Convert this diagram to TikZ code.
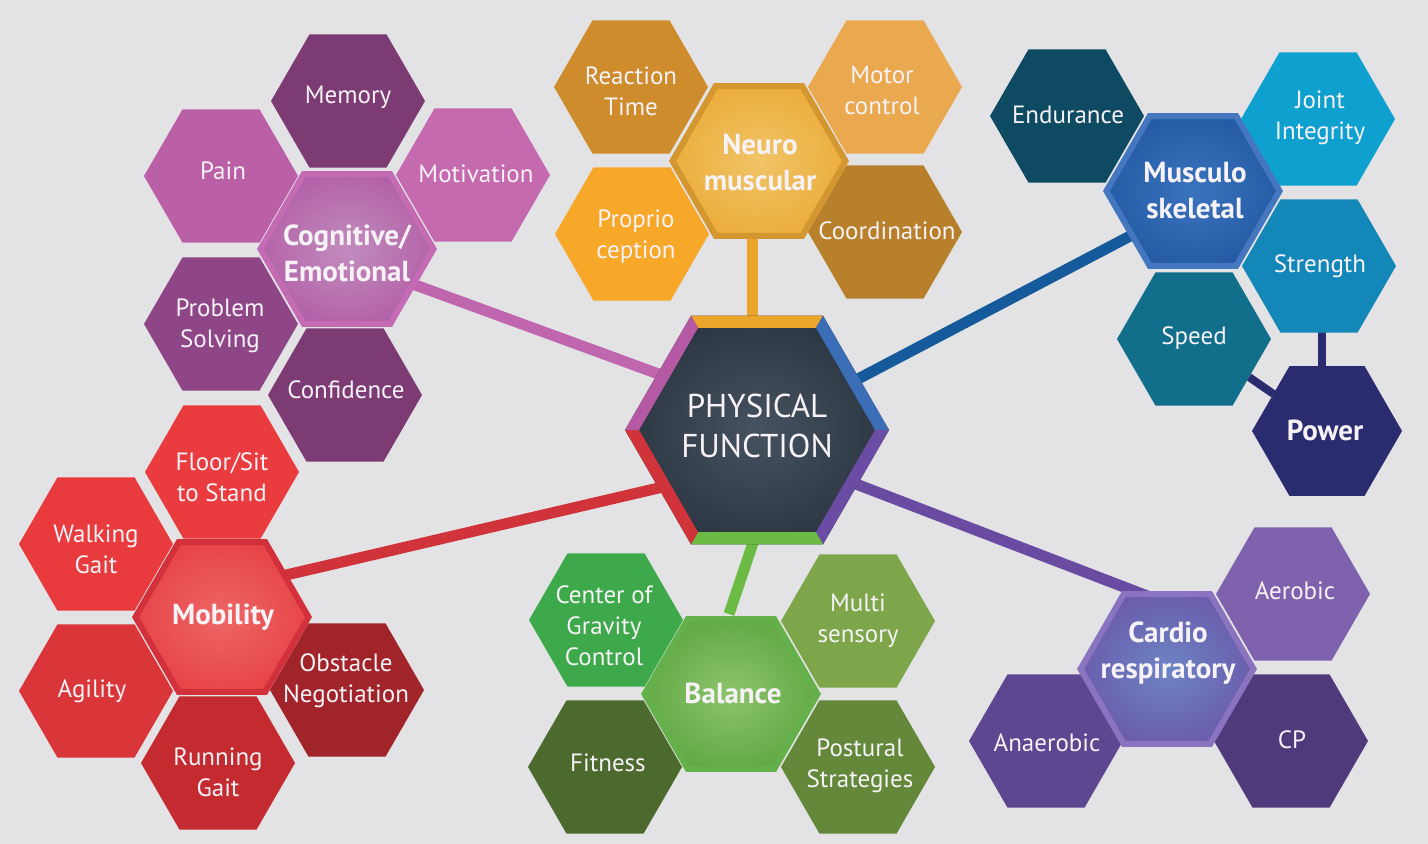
\documentclass[tikz,border=0pt]{standalone}
\usepackage{fontspec}
\setmainfont{PT Sans}
\usetikzlibrary{shapes.geometric,calc}
\makeatletter
\pgfdeclareradialshading[tikz@radial@inner,tikz@radial@outer]{hexrad}{\pgfpointorigin}{color(0bp)=(tikz@radial@inner); color(40bp)=(tikz@radial@outer); color(50bp)=(tikz@radial@outer)}
\makeatother
\pgfdeclarelayer{back}
\pgfdeclarelayer{links}
\pgfsetlayers{back,links,main}
% background
\definecolor{bgc}{HTML}{E3E3E5}
% cognitive
\definecolor{cMem}{HTML}{7D3B74}
\definecolor{cPain}{HTML}{BB5FA7}
\definecolor{cMot}{HTML}{C56AAF}
\definecolor{cProb}{HTML}{8F4687}
\definecolor{cConf}{HTML}{7D3B74}
\definecolor{cogB}{HTML}{C46BB4}
\definecolor{cogI}{HTML}{C28CBE}
\definecolor{cogO}{HTML}{AA4A9C}
\definecolor{pinkL}{HTML}{C066AE}
% neuromuscular
\definecolor{nRT}{HTML}{CE8C2C}
\definecolor{nMC}{HTML}{EAA94F}
\definecolor{nPro}{HTML}{F7A828}
\definecolor{nCoo}{HTML}{B9802B}
\definecolor{neuB}{HTML}{D4962E}
\definecolor{neuI}{HTML}{F0C466}
\definecolor{neuO}{HTML}{EAA126}
\definecolor{orangeL}{HTML}{EBA52B}
% musculoskeletal
\definecolor{mEnd}{HTML}{0E4B62}
\definecolor{mJI}{HTML}{0EA0CF}
\definecolor{mStr}{HTML}{1487B9}
\definecolor{mSpd}{HTML}{116F8C}
\definecolor{mPow}{HTML}{2B2C6F}
\definecolor{musB}{HTML}{4576C0}
\definecolor{musI}{HTML}{3A73BE}
\definecolor{musO}{HTML}{1A4E98}
\definecolor{blueL}{HTML}{155A9A}
\definecolor{navyL}{HTML}{2B2C6F}
% mobility
\definecolor{rFS}{HTML}{EA3B3F}
\definecolor{rWG}{HTML}{E93A3E}
\definecolor{rAg}{HTML}{DA3538}
\definecolor{rRG}{HTML}{C42B31}
\definecolor{rObs}{HTML}{A1242A}
\definecolor{mobB}{HTML}{D2303A}
\definecolor{mobI}{HTML}{EE6666}
\definecolor{mobO}{HTML}{E23236}
\definecolor{redL}{HTML}{D03339}
% balance
\definecolor{gCoG}{HTML}{3DA94B}
\definecolor{gMS}{HTML}{7DA64A}
\definecolor{gFit}{HTML}{4D6A2E}
\definecolor{gPos}{HTML}{63883A}
\definecolor{balB}{HTML}{64B14B}
\definecolor{balI}{HTML}{8CC46C}
\definecolor{balO}{HTML}{4C9A30}
\definecolor{greenL}{HTML}{6CBB45}
% cardio
\definecolor{vAer}{HTML}{7F62AD}
\definecolor{vAna}{HTML}{5D4791}
\definecolor{vCP}{HTML}{4F3B7B}
\definecolor{carB}{HTML}{8B74BF}
\definecolor{carI}{HTML}{6C84C4}
\definecolor{carO}{HTML}{6A479F}
\definecolor{purpleL}{HTML}{6A4BA2}
% physical function
\definecolor{pfI}{HTML}{46525F}
\definecolor{pfO}{HTML}{1E2734}
\definecolor{pfOr}{HTML}{EBA52B}
\definecolor{pfBl}{HTML}{3C6DB7}
\definecolor{pfPu}{HTML}{6B4CA4}
\definecolor{pfGr}{HTML}{6CBB45}
\definecolor{pfRe}{HTML}{D0343A}
\definecolor{pfMa}{HTML}{B659A5}
\definecolor{txt}{HTML}{F6F2F6}
\begin{document}
\begin{tikzpicture}[x=0.5pt,y=-0.5pt,
  hexs/.style={regular polygon, regular polygon sides=6, inner sep=0pt, outer sep=0pt, minimum size=77pt},
  hexc/.style={regular polygon, regular polygon sides=6, inner sep=0pt, outer sep=0pt, minimum size=86.5pt, line width=3pt},
  lab/.style={text=txt, align=center, inner sep=0pt, font=\fontsize{12.5}{15.5}\selectfont},
  labb/.style={text=txt, align=center, inner sep=0pt, font=\fontsize{14.5}{18}\selectfont\bfseries},
  conn/.style={line width=5.5pt},
  navyconn/.style={line width=4pt, draw=navyL}
]
\begin{pgfonlayer}{back}
\fill[bgc] (0,0) rectangle (1428,844);
\end{pgfonlayer}
\useasboundingbox (0,0) rectangle (1428,844);

% ---------- small hexagons ----------
% cognitive / emotional
\node[hexs, fill=cMem]  (mem)  at (348,101) {};
\node[hexs, fill=cPain] (pain) at (221,176) {};
\node[hexs, fill=cMot]  (mot)  at (473,175) {};
\node[hexs, fill=cProb] (prob) at (221,324) {};
\node[hexs, fill=cConf] (conf) at (345,395) {};
% neuromuscular
\node[hexs, fill=nRT]  (rt)  at (631,87) {};
\node[hexs, fill=nMC]  (mc)  at (885,87) {};
\node[hexs, fill=nPro] (pro) at (632,234) {};
\node[hexs, fill=nCoo] (coo) at (885,232) {};
% musculoskeletal
\node[hexs, fill=mEnd] (end) at (1067,116) {};
\node[hexs, fill=mJI]  (ji)  at (1318,119) {};
\node[hexs, fill=mStr] (str) at (1319,266) {};
\node[hexs, fill=mSpd] (spd) at (1194,339) {};
\node[hexs, fill=mPow, minimum size=75pt] (pow) at (1327,431) {};
% mobility
\node[hexs, fill=rFS]  (fs)  at (222,472) {};
\node[hexs, fill=rWG]  (wg)  at (96,544) {};
\node[hexs, fill=rAg]  (ag)  at (96,691) {};
\node[hexs, fill=rRG]  (rg)  at (218,763) {};
\node[hexs, fill=rObs] (obs) at (347,690) {};
% balance
\node[hexs, fill=gCoG] (cgc) at (606,620) {};
\node[hexs, fill=gMS]  (ms)  at (858,621) {};
\node[hexs, fill=gFit] (fit) at (605,767) {};
\node[hexs, fill=gPos] (pos) at (858,767) {};
% cardio
\node[hexs, fill=vAer] (aer) at (1293,594) {};
\node[hexs, fill=vAna] (ana) at (1046,741) {};
\node[hexs, fill=vCP]  (cp)  at (1291,741) {};

% ---------- centre hexagons ----------
\node[hexc, draw=cogB, inner color=cogI, outer color=cogO, shading=hexrad] (cog) at (347,249) {};
\node[hexc, draw=neuB, inner color=neuI, outer color=neuO, shading=hexrad] (neu) at (759,161) {};
\node[hexc, draw=musB, inner color=musI, outer color=musO, shading=hexrad] (mus) at (1193,191) {};
\node[hexc, draw=mobB, inner color=mobI, outer color=mobO, shading=hexrad] (mob) at (222,617) {};
\node[hexc, draw=balB, inner color=balI, outer color=balO, shading=hexrad] (bal) at (731,694) {};
\node[hexc, draw=carB, inner color=carI, outer color=carO, shading=hexrad] (car) at (1167,669) {};

% ---------- physical function ----------
\node[regular polygon, regular polygon sides=6, inner sep=0pt, outer sep=0pt, minimum size=132pt,
      inner color=pfI, outer color=pfO, shading=hexrad] (pf) at (757,430) {};
\fill[pfOr] ($(pf)+(-66,-114.3)$) -- ($(pf)+(66,-114.3)$) -- ($(pf)+(59,-102.2)$) -- ($(pf)+(-59,-102.2)$) -- cycle;
\fill[pfBl] ($(pf)+(66,-114.3)$) -- ($(pf)+(132,0)$) -- ($(pf)+(118,0)$) -- ($(pf)+(59,-102.2)$) -- cycle;
\fill[pfPu] ($(pf)+(132,0)$) -- ($(pf)+(66,114.3)$) -- ($(pf)+(59,102.2)$) -- ($(pf)+(118,0)$) -- cycle;
\fill[pfGr] ($(pf)+(66,114.3)$) -- ($(pf)+(-66,114.3)$) -- ($(pf)+(-59,102.2)$) -- ($(pf)+(59,102.2)$) -- cycle;
\fill[pfRe] ($(pf)+(-66,114.3)$) -- ($(pf)+(-132,0)$) -- ($(pf)+(-118,0)$) -- ($(pf)+(-59,102.2)$) -- cycle;
\fill[pfMa] ($(pf)+(-132,0)$) -- ($(pf)+(-66,-114.3)$) -- ($(pf)+(-59,-102.2)$) -- ($(pf)+(-118,0)$) -- cycle;

% ---------- connectors ----------
\begin{pgfonlayer}{links}
\draw[conn, pinkL]   ($(cog)+(0,11)$) -- ($(pf)+(0,-20)$);
\draw[conn, orangeL] ($(neu)+(-7,0)$) -- ($(pf)+(-5,-100)$);
\draw[conn, blueL]   ($(mus)+(0,12)$) -- ($(pf)+(0,2)$);
\draw[conn, purpleL] ($(pf)+(0,16)$) -- ($(car)+(-17,-72)$);
\draw[conn, greenL]  ($(pf)+(-3,110)$) -- ($(bal)+(-2,-80)$);
\draw[conn, redL]    ($(mob)+(0,-27)$) -- ($(pf)+(0,35)$);
\draw[navyconn] ($(str)+(3,0)$) -- ($(pow)+(-5,0)$);
\draw[navyconn] (spd) -- (pow);
\end{pgfonlayer}

% ---------- labels ----------
\node[lab] (memT)  at (348,97)  {Memory};
\node[lab] (painT) at (223,171) {Pain};
\node[lab] (motT)  at (476,174) {Motivation};
\node[lab] (probT) at (220,326) {Problem\\Solving};
\node[lab] (confT) at (346,390) {Confidence};
\node[labb] (cogT) at (347,253) {Cognitive/\\Emotional};

\node[lab] (rtT)  at (631,91)  {Reaction\\Time};
\node[lab] (mcT)  at (882,90)  {Motor\\control};
\node[lab] (proT) at (636,237) {Proprio\\ception};
\node[lab] (cooT) at (887,231) {Coordination};
\node[labb] (neuT) at (760,162) {Neuro\\muscular};

\node[lab] (endT) at (1068,115) {Endurance};
\node[lab] (jiT)  at (1320,118) {Joint\\Integrity};
\node[lab] (strT) at (1320,266) {Strength};
\node[lab] (spdT) at (1194,338) {Speed};
\node[labb] (powT) at (1325,430) {Power};
\node[labb] (musT) at (1195,191) {Musculo\\skeletal};

\node[lab] (fsT)  at (222,477) {Floor/Sit\\to Stand};
\node[lab] (wgT)  at (96,549)  {Walking\\Gait};
\node[lab] (agT)  at (92,691)  {Agility};
\node[lab] (rgT)  at (218,772) {Running\\Gait};
\node[lab] (obsT) at (346,681) {Obstacle\\Negotiation};
\node[labb] (mobT) at (223,617) {Mobility};

\node[lab] (cgcT) at (604,626) {Center of\\Gravity\\Control};
\node[lab] (msT)  at (858,621) {Multi\\sensory};
\node[lab] (fitT) at (608,763) {Fitness};
\node[lab] (posT) at (860,766) {Postural\\Strategies};
\node[labb] (balT) at (733,693) {Balance};

\node[lab] (aerT) at (1295,591) {Aerobic};
\node[lab] (anaT) at (1047,743) {Anaerobic};
\node[lab] (cpT)  at (1292,740) {CP};
\node[labb] (carT) at (1168,653) {Cardio\\respiratory};

\node[text=txt, align=center, inner sep=0pt, font=\fontsize{16.5}{20}\selectfont] (pfT) at (757,426) {PHYSICAL\\FUNCTION};
\end{tikzpicture}
\end{document}
